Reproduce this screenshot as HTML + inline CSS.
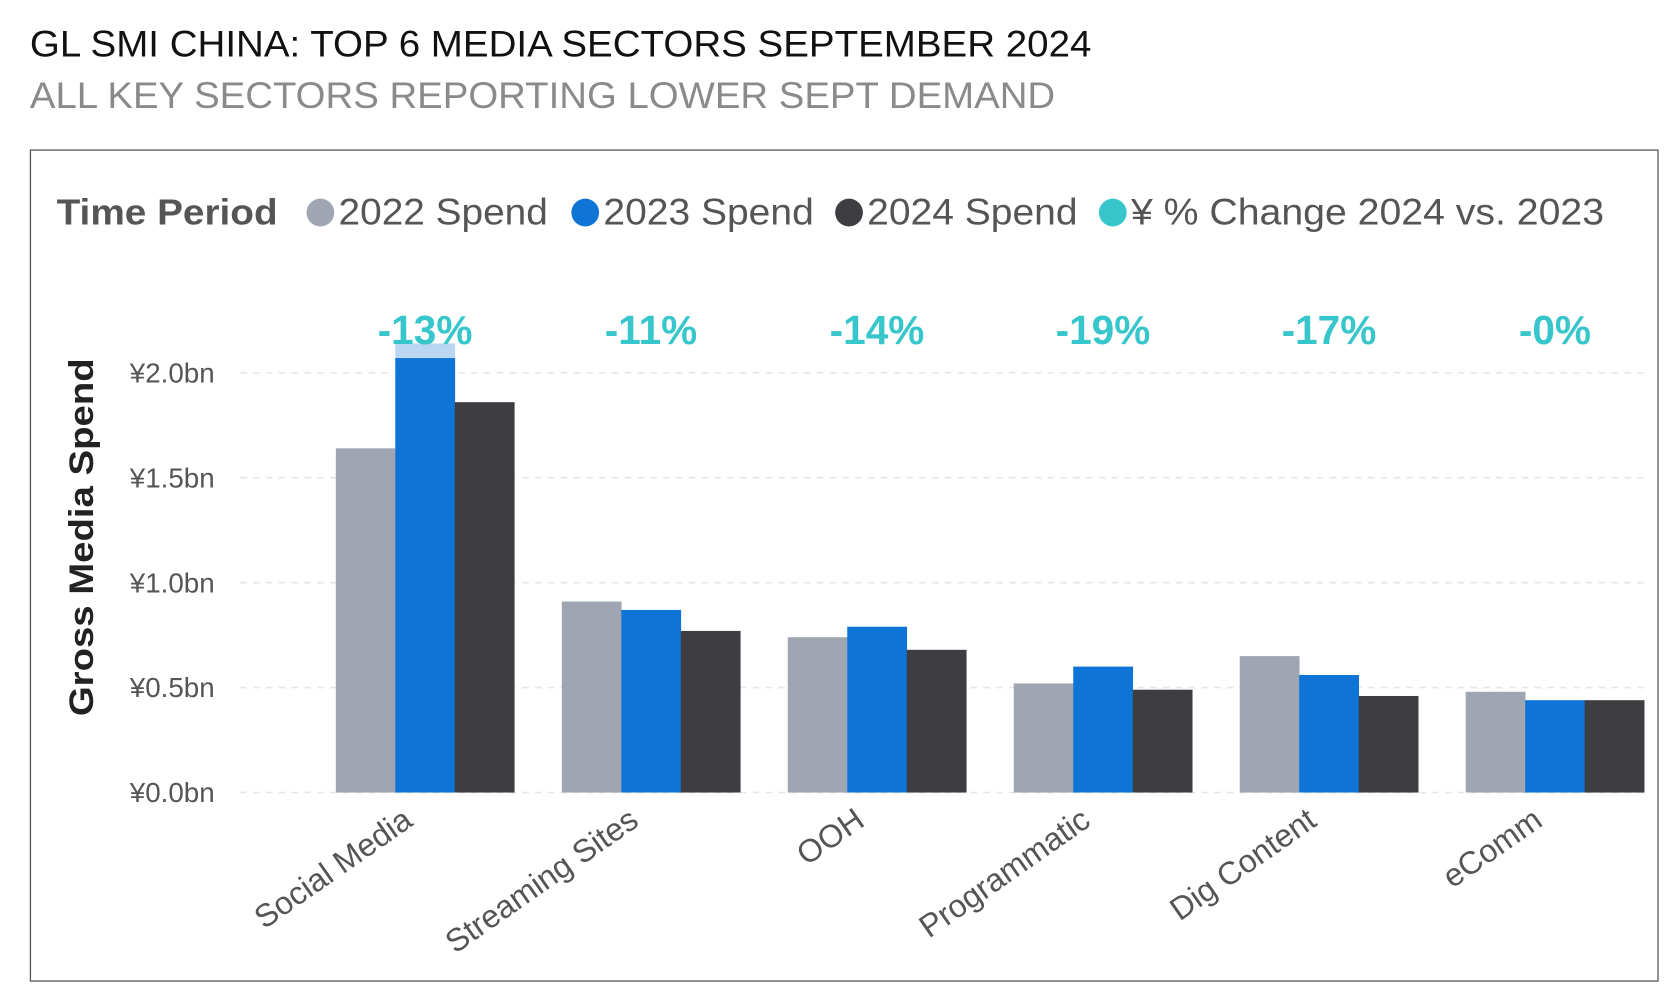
<!DOCTYPE html>
<html><head><meta charset="utf-8"><style>
html,body{margin:0;padding:0;background:#fff;}
svg{display:block;font-family:"Liberation Sans",sans-serif;}
</style></head><body>
<svg id="chart" width="1666" height="988" viewBox="0 0 1560 925" preserveAspectRatio="none">
<text x="28" y="53" font-size="35" fill="#111" textLength="994" lengthAdjust="spacingAndGlyphs">GL SMI CHINA: TOP 6 MEDIA SECTORS SEPTEMBER 2024</text>
<text x="28" y="101" font-size="35" fill="#8a8a8a" textLength="960" lengthAdjust="spacingAndGlyphs">ALL KEY SECTORS REPORTING LOWER SEPT DEMAND</text>
<rect x="28.5" y="140.5" width="1524" height="778" fill="none" stroke="#555" stroke-width="1.2"/>
<g>
<text x="53" y="210" font-size="34" font-weight="bold" fill="#555" textLength="207" lengthAdjust="spacingAndGlyphs">Time Period</text>
<circle cx="300" cy="199" r="13" fill="#A0A6B1"/>
<text x="317" y="210" font-size="35" fill="#555" textLength="196" lengthAdjust="spacingAndGlyphs">2022 Spend</text>
<circle cx="548" cy="199" r="13" fill="#0E75D6"/>
<text x="565" y="210" font-size="35" fill="#555" textLength="197" lengthAdjust="spacingAndGlyphs">2023 Spend</text>
<circle cx="795" cy="199" r="13" fill="#3E3E42"/>
<text x="812" y="210" font-size="35" fill="#555" textLength="197" lengthAdjust="spacingAndGlyphs">2024 Spend</text>
<circle cx="1042" cy="199" r="13" fill="#37C6CC"/>
<text x="1059" y="210" font-size="35" fill="#555" textLength="443" lengthAdjust="spacingAndGlyphs">¥ % Change 2024 vs. 2023</text>
</g>
<text transform="translate(87,503) rotate(-90)" text-anchor="middle" font-size="32" font-weight="bold" fill="#222" textLength="335" lengthAdjust="spacingAndGlyphs">Gross Media Spend</text>
<g id="grid"></g><g id="bars"></g><g id="labels"></g>
</svg>
<script>
const categories=["Social Media","Streaming Sites","OOH","Programmatic","Dig Content","eComm"];
const spend2022=[1.64,0.91,0.74,0.52,0.65,0.48];
const spend2023=[2.07,0.87,0.79,0.60,0.56,0.44];
const spend2024=[1.86,0.77,0.68,0.49,0.46,0.44];
const highlight2023=[2.14,null,null,null,null,null];
const pctChange=["-13%","-11%","-14%","-19%","-17%","-0%"];
const yTicks=[0,0.5,1.0,1.5,2.0];
const yTickLabels=["¥0.0bn","¥0.5bn","¥1.0bn","¥1.5bn","¥2.0bn"];
const NS="http://www.w3.org/2000/svg";
const y0=742, pxPer=196.5;
function yScale(v){return y0-v*pxPer;}
function xCenter(i){return 398+i*211.6;}
function mk(tag,attrs,parent){const e=document.createElementNS(NS,tag);for(const k in attrs)e.setAttribute(k,attrs[k]);parent.appendChild(e);return e;}
const grid=document.getElementById('grid'),bars=document.getElementById('bars'),labels=document.getElementById('labels');
yTicks.forEach((t,i)=>{
  const l=mk('line',{x1:225,x2:1540,y1:yScale(t),y2:yScale(t),stroke:'#e6e6e6','stroke-width':1.5,'stroke-dasharray':'6,6'},grid);
  
  
  const tx=mk('text',{x:201,y:yScale(t)+9,'text-anchor':'end','font-size':26,fill:'#555'},grid);
  tx.textContent=yTickLabels[i];
  
  
});
const series=[[spend2022,'#A0A6B1','bar-2022'],[spend2023,'#0E75D6','bar-2023'],[spend2024,'#3E3E42','bar-2024']];
categories.forEach((c,i)=>{
  const cx=xCenter(i), bw=55.7;
  if(highlight2023[i]!==null){
    const h=mk('rect',{x:cx-bw*0.5,y:yScale(highlight2023[i]),width:bw+0.3,height:y0-yScale(highlight2023[i]),fill:'#B9D6F2'},bars);
    
    
  }
  series.forEach((s,j)=>{
    const v=s[0][i];
    const r=mk('rect',{x:cx-bw*1.5+j*bw,y:yScale(v),width:bw+0.3,height:y0-yScale(v),fill:s[1]},bars);
    
    
  });
  const p=mk('text',{x:cx,y:322,'text-anchor':'middle','font-size':38,'font-weight':'bold',fill:'#37C6CC'},labels);
  p.textContent=pctChange[i];
  
  
  const xl=mk('text',{transform:`translate(${cx-10},${772}) rotate(-35)`,'text-anchor':'end','font-size':30,fill:'#555'},labels);
  xl.textContent=c;
  
  
});
</script>
</body></html>
